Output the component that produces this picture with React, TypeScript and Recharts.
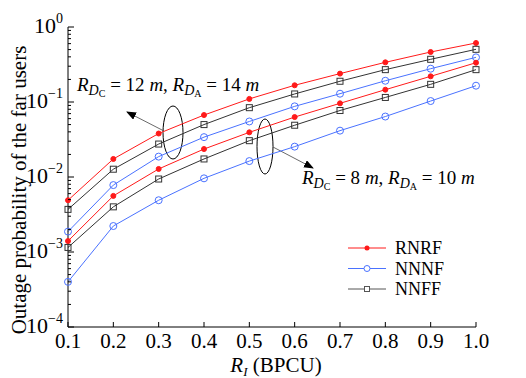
import React from 'react';
import { LineChart, Line, XAxis, YAxis, Customized } from 'recharts';

// R_I values (BPCU)
const xVals = [0.1, 0.2, 0.3, 0.4, 0.5, 0.6, 0.7, 0.8, 0.9, 1.0];

// R_DC = 12 m, R_DA = 14 m
const rnrf12 = [4.9e-3, 1.74e-2, 3.8e-2, 6.7e-2, 0.11, 0.167, 0.239, 0.338, 0.464, 0.612];
const nnff12 = [3.7e-3, 1.27e-2, 2.75e-2, 5.0e-2, 8.4e-2, 0.128, 0.189, 0.27, 0.371, 0.504];
const nnnf12 = [1.87e-3, 7.8e-3, 1.87e-2, 3.4e-2, 5.5e-2, 8.75e-2, 0.129, 0.192, 0.278, 0.394];

// R_DC = 8 m, R_DA = 10 m
const rnrf8 = [1.4e-3, 5.6e-3, 1.28e-2, 2.36e-2, 3.94e-2, 6.3e-2, 9.6e-2, 0.146, 0.22, 0.334];
const nnff8 = [1.15e-3, 4.0e-3, 9.4e-3, 1.74e-2, 3.05e-2, 4.9e-2, 7.7e-2, 0.115, 0.172, 0.27];
const nnnf8 = [4.0e-4, 2.22e-3, 4.9e-3, 9.6e-3, 1.63e-2, 2.54e-2, 4.15e-2, 6.4e-2, 0.103, 0.165];

const xTicks = [0.1, 0.2, 0.3, 0.4, 0.5, 0.6, 0.7, 0.8, 0.9, 1.0];
const majorExps = [-4, -3, -2, -1, 0];

const RED = '#ff1a1a';
const BLUE = '#4a72ff';
const BLACK = '#333333';
const FONT = '"Liberation Serif", "Times New Roman", serif';

const data = xVals.map((x, i) => ({
  x,
  rnrf12: rnrf12[i],
  nnff12: nnff12[i],
  nnnf12: nnnf12[i],
  rnrf8: rnrf8[i],
  nnff8: nnff8[i],
  nnnf8: nnnf8[i],
}));

// log ticks with minor ones
const yTicks: number[] = [];
for (let e = -4; e < 0; e++) {
  for (let k = 1; k <= 9; k++) yTicks.push(Number((k * Math.pow(10, e)).toPrecision(3)));
}
yTicks.push(1);

const isMajor = (v: number) => majorExps.some((e) => Math.abs(v - Math.pow(10, e)) < 1e-12);

const Square = (props: any) => {
  const { cx, cy, stroke } = props;
  if (cx == null || cy == null) return null;
  return <rect x={cx - 3} y={cy - 3} width={6} height={6} fill="none" stroke={stroke} strokeWidth={1} />;
};

const LeftTick = (props: any) => {
  const { x, y, payload } = props;
  const v = payload.value;
  const major = isMajor(v);
  const exp = Math.round(Math.log10(v));
  return (
    <g>
      <line x1={x} x2={x + (major ? 6 : 3)} y1={y} y2={y} stroke="#000" />
      {major && (
        <text x={x - 5} y={y + 6} textAnchor="end" style={{ fontFamily: FONT }} fontSize={22} fill="#000">
          10
          <tspan fontSize={14} dy={-10}>{exp === 0 ? '0' : '\u2212' + Math.abs(exp)}</tspan>
        </text>
      )}
    </g>
  );
};

const RightTick = (props: any) => {
  const { x, y, payload } = props;
  const major = isMajor(payload.value);
  return <line x1={x} x2={x - (major ? 6 : 3)} y1={y} y2={y} stroke="#000" />;
};

const BottomTick = (props: any) => {
  const { x, y, payload } = props;
  return (
    <g>
      <line x1={x} x2={x} y1={y} y2={y - 5} stroke="#000" />
      <text x={x} y={y + 21} textAnchor="middle" style={{ fontFamily: FONT }} fontSize={21} fill="#000">
        {payload.value.toFixed(1)}
      </text>
    </g>
  );
};

const TopTick = (props: any) => {
  const { x, y } = props;
  return <line x1={x} x2={x} y1={y} y2={y + 5} stroke="#000" />;
};

const legendItems = [
  { name: 'RNRF', color: RED, shape: 'dot' },
  { name: 'NNNF', color: BLUE, shape: 'circle' },
  { name: 'NNFF', color: '#555555', shape: 'square' },
];

const RLabel = ({ x, y, c, a }: { x: number; y: number; c: string; a: string }) => (
  <text x={x} y={y} style={{ fontFamily: FONT }} fontSize={19} fill="#000">
    <tspan fontStyle="italic">R</tspan>
    <tspan fontStyle="italic" fontSize={14} dy={4}>D</tspan>
    <tspan fontSize={10} dy={2}>C</tspan>
    <tspan dy={-6}>{' = ' + c + ' '}</tspan>
    <tspan fontStyle="italic">m</tspan>
    <tspan>{', '}</tspan>
    <tspan fontStyle="italic">R</tspan>
    <tspan fontStyle="italic" fontSize={14} dy={4}>D</tspan>
    <tspan fontSize={10} dy={2}>A</tspan>
    <tspan dy={-6}>{' = ' + a + ' '}</tspan>
    <tspan fontStyle="italic">m</tspan>
  </text>
);

const Annotations = () => (
  <g>
    <defs>
      <marker id="arrowHead" markerWidth="10" markerHeight="8" refX="9" refY="4" orient="auto" markerUnits="userSpaceOnUse">
        <path d="M0,0 L10,4 L0,8 z" fill="#000" />
      </marker>
    </defs>
    <RLabel x={77} y={91} c="12" a="14" />
    <ellipse cx={173} cy={132.5} rx={10} ry={26.5} fill="none" stroke="#000" strokeWidth={1} />
    <line x1={164} y1={131} x2={127} y2={112} stroke="#444" strokeWidth={0.8} markerEnd="url(#arrowHead)" />

    <RLabel x={302} y={184} c="8" a="10" />
    <ellipse cx={265} cy={146.5} rx={8} ry={27.5} fill="none" stroke="#000" strokeWidth={1} />
    <line x1={273} y1={147} x2={313} y2={168} stroke="#444" strokeWidth={0.8} markerEnd="url(#arrowHead)" />

    {legendItems.map((it, i) => {
      const y = 248 + i * 20.5;
      return (
        <g key={it.name}>
          <line x1={348} x2={386} y1={y} y2={y} stroke={it.color} strokeWidth={1} />
          {it.shape === 'dot' && <circle cx={367} cy={y} r={2.5} fill={it.color} />}
          {it.shape === 'circle' && <circle cx={367} cy={y} r={3} fill="#fff" stroke={it.color} />}
          {it.shape === 'square' && <rect x={364.5} y={y - 2.5} width={5} height={5} fill="#fff" stroke={it.color} />}
          <text x={395} y={y + 6} style={{ fontFamily: FONT }} fontSize={18} fill="#000">{it.name}</text>
        </g>
      );
    })}

    <text x={276} y={372} textAnchor="middle" style={{ fontFamily: FONT }} fontSize={21} fill="#000">
      <tspan fontStyle="italic">R</tspan>
      <tspan fontStyle="italic" fontSize={13} dy={4}>I</tspan>
      <tspan dy={-4}>{' (BPCU)'}</tspan>
    </text>
    <text x={26} y={190} transform="rotate(-90 26 190)" textAnchor="middle" style={{ fontFamily: FONT }} fontSize={21} fill="#000">
      Outage probability of the far users
    </text>
  </g>
);

export default function App() {
  const seriesList = [
    { key: 'rnrf12', color: RED, kind: 'dot' },
    { key: 'nnff12', color: BLACK, kind: 'square' },
    { key: 'nnnf12', color: BLUE, kind: 'circle' },
    { key: 'rnrf8', color: RED, kind: 'dot' },
    { key: 'nnff8', color: BLACK, kind: 'square' },
    { key: 'nnnf8', color: BLUE, kind: 'circle' },
  ];

  return (
    <div style={{ position: 'absolute', left: 0, top: 0, background: '#fff', fontFamily: FONT }}>
      <LineChart width={526} height={378} data={data} margin={{ top: 27, right: 50, bottom: 0, left: 0 }}>
        <XAxis
          dataKey="x"
          type="number"
          domain={[0.1, 1.0]}
          ticks={xTicks}
          interval={0}
          height={51}
          tickSize={0}
          tickMargin={0}
          tickLine={false}
          tick={<BottomTick />}
          axisLine={{ stroke: '#000' }}
        />
        <XAxis
          xAxisId="top"
          orientation="top"
          dataKey="x"
          type="number"
          domain={[0.1, 1.0]}
          ticks={xTicks}
          interval={0}
          height={0}
          tickSize={0}
          tickMargin={0}
          tickLine={false}
          tick={<TopTick />}
          axisLine={{ stroke: '#000' }}
        />
        <YAxis
          type="number"
          scale="log"
          domain={[1e-4, 1]}
          allowDataOverflow
          ticks={yTicks}
          interval={0}
          width={68}
          tickSize={0}
          tickMargin={0}
          tickLine={false}
          tick={<LeftTick />}
          axisLine={{ stroke: '#000' }}
        />
        <YAxis
          yAxisId="right"
          orientation="right"
          type="number"
          scale="log"
          domain={[1e-4, 1]}
          allowDataOverflow
          ticks={yTicks}
          interval={0}
          width={0}
          tickSize={0}
          tickMargin={0}
          tickLine={false}
          tick={<RightTick />}
          axisLine={{ stroke: '#000' }}
        />
        {seriesList.map((s) => (
          <Line
            key={s.key}
            dataKey={s.key}
            stroke={s.color}
            strokeWidth={1}
            isAnimationActive={false}
            dot={
              s.kind === 'square'
                ? (p: any) => <Square key={p.index} {...p} stroke={s.color} />
                : s.kind === 'dot'
                ? { r: 2.5, fill: s.color, stroke: s.color, strokeWidth: 1 }
                : { r: 3.5, fill: 'none', stroke: s.color, strokeWidth: 1 }
            }
          />
        ))}
        <Customized component={<Annotations />} />
      </LineChart>
    </div>
  );
}
